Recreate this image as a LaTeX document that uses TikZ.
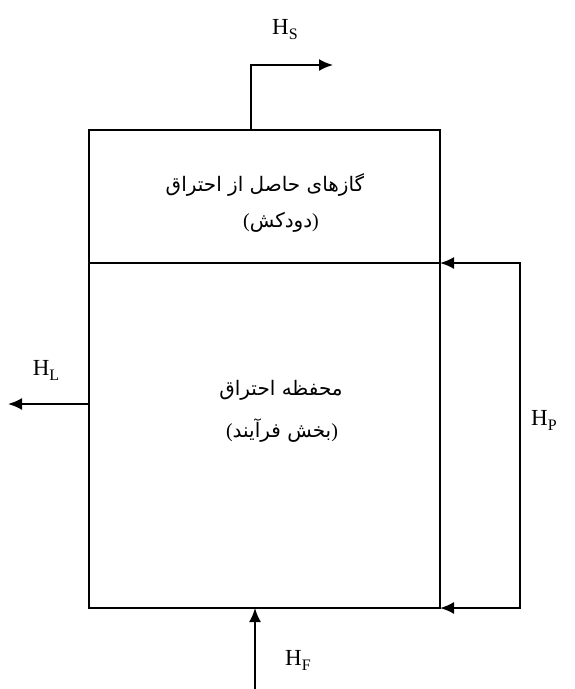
\documentclass[tikz,border=0pt]{standalone}
\usepackage{fontspec}
\setmainfont{Liberation Serif}
\newfontfamily\farsifont[Script=Arabic]{DejaVu Sans}
\TeXXeTstate=1
\usetikzlibrary{arrows.meta,positioning}
\newcommand\hflow[1]{H\raisebox{-0.22em}{\fontsize{16}{16}\selectfont #1}}

\begin{document}
\begin{tikzpicture}[x=1pt,y=-1pt,>={Latex[length=14pt,width=12pt]},line width=2pt]
\useasboundingbox (0,0) rectangle (575,689);
\tikzstyle{part}=[draw,line width=2pt,minimum width=351pt,inner sep=0pt,outer sep=0pt]
\tikzstyle{farsi}=[font=\farsifont\fontsize{20}{24}\selectfont,align=center]
\tikzstyle{flow}=[font=\fontsize{23}{26}\selectfont]
% furnace: stack on top of the combustion chamber
\node[part,minimum height=133pt,anchor=north west] (stack) at (89,130) {};
\node[part,minimum height=345pt,below=0pt of stack] (chamber) {};
\node[farsi] (gastext) at (265,185) {\beginR گازهای حاصل از احتراق\endR};
\node[farsi] (stacktext) at (281,222) {{\rmfamily(}\beginR دودکش\endR{\rmfamily)}};
\node[farsi] (chambertext) at (281,390) {\beginR محفظه احتراق\endR};
\node[farsi] (processtext) at (282,431) {{\rmfamily(}\beginR بخش فرآیند\endR{\rmfamily)}};
% heat flows
\coordinate (hsend) at (333,65);
\coordinate (hlend) at (8,404);
\coordinate (hpback) at (520,435);
\coordinate (hfin) at (255,689);
\draw[->] ([xshift=162pt]stack.north west) |- (hsend);
\draw[->] (chamber.west |- hlend) -- (hlend);
\draw[<->] (chamber.north east) -| (hpback) |- (chamber.south east);
\draw[->] (hfin) -- (hfin |- chamber.south);
\node[flow] (hs) at (285,30) {\hflow{S}};
\node[flow] (hl) at (46,370) {\hflow{L}};
\node[flow] (hp) at (544,420) {\hflow{P}};
\node[flow] (hf) at (298,660) {\hflow{F}};
\end{tikzpicture}
\end{document}
